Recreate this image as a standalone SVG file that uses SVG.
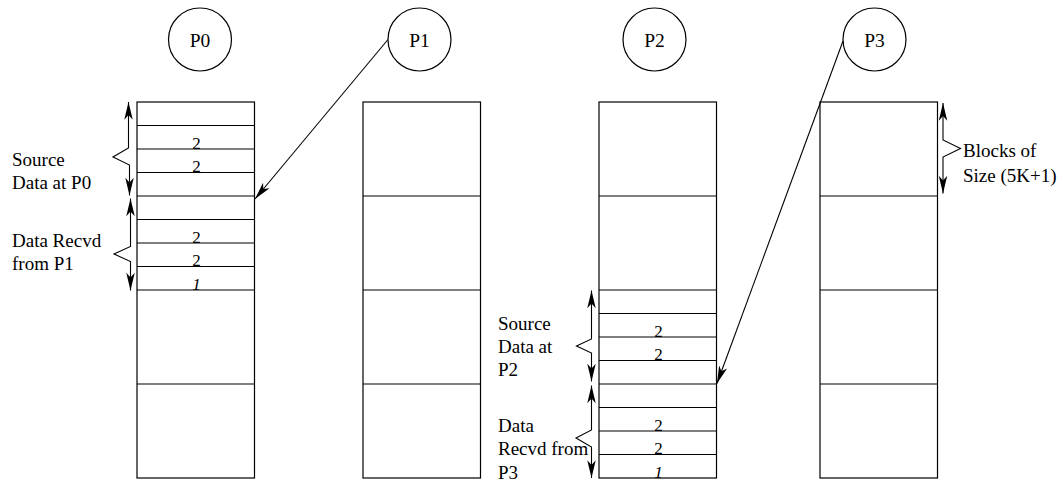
<svg xmlns="http://www.w3.org/2000/svg" width="1063" height="483" viewBox="0 0 1063 483" font-family="Liberation Serif, Times New Roman, DejaVu Serif, serif">
<style>
.box{fill:none;stroke:#000;stroke-width:1.2}
.ln{stroke:#000;stroke-width:1.2}
.arr{fill:none;stroke:#000;stroke-width:1.1}
.t{font-family:'Liberation Serif','Times New Roman','DejaVu Serif',serif;fill:#000}
.lbl{font-size:19px}
.pn{font-size:19.5px;text-anchor:middle}
.dg{font-size:17px;text-anchor:middle}
.it{font-style:italic}
</style>
<defs>
<marker id="ah" markerUnits="userSpaceOnUse" markerWidth="20" markerHeight="12" viewBox="-16 -5 17 10" refX="0" refY="0" orient="auto-start-reverse">
<path d="M0,0 L-15,-3.6 L-11,0 L-15,3.6 Z" fill="#000"/>
</marker>
</defs>
<rect width="1063" height="483" fill="#fff"/>

<g id="node-p0"><circle cx="200" cy="39.5" r="31.5" class="box"/><text x="200" y="47" class="t pn">P0</text></g>
<g id="node-p1"><circle cx="419.5" cy="39.5" r="31.5" class="box"/><text x="419.5" y="47" class="t pn">P1</text></g>
<g id="node-p2"><circle cx="654.5" cy="39.5" r="31.5" class="box"/><text x="654.5" y="47" class="t pn">P2</text></g>
<g id="node-p3"><circle cx="874.5" cy="39.5" r="31.5" class="box"/><text x="874.5" y="47" class="t pn">P3</text></g>

<g id="node-col0">
<rect x="137" y="102" width="117.5" height="376" class="box"/>
<path class="ln" d="M137,125.5H254.5M137,149H254.5M137,172.5H254.5M137,196H254.5M137,219.5H254.5M137,243H254.5M137,266.5H254.5M137,290H254.5M137,384H254.5"/>
<text x="196.5" y="149" class="t dg">2</text>
<text x="196.5" y="172" class="t dg">2</text>
<text x="196.5" y="242.5" class="t dg">2</text>
<text x="196.5" y="266" class="t dg">2</text>
<text x="196.5" y="289.5" class="t dg it">1</text>
</g>
<g id="node-col1">
<rect x="363" y="102" width="117.5" height="376" class="box"/>
<path class="ln" d="M363,196H480.5M363,290H480.5M363,384H480.5"/>
</g>
<g id="node-col2">
<rect x="599" y="102" width="117.5" height="376" class="box"/>
<path class="ln" d="M599,196H716.5M599,290H716.5M599,313.5H716.5M599,337H716.5M599,360.5H716.5M599,384H716.5M599,407.5H716.5M599,431H716.5M599,454.5H716.5"/>
<text x="658.5" y="336.5" class="t dg">2</text>
<text x="658.5" y="360" class="t dg">2</text>
<text x="658.5" y="430.5" class="t dg">2</text>
<text x="658.5" y="454" class="t dg">2</text>
<text x="658.5" y="477.5" class="t dg it">1</text>
</g>
<g id="node-col3">
<rect x="820" y="102" width="117.5" height="376" class="box"/>
<path class="ln" d="M820,196H937.5M820,290H937.5M820,384H937.5"/>
</g>

<g id="label-src0"><text x="12" y="166" class="t lbl">Source</text><text x="12" y="189" class="t lbl">Data at P0</text></g>
<g id="label-rcv0"><text x="12" y="246.5" class="t lbl">Data Recvd</text><text x="12" y="270" class="t lbl">from P1</text></g>
<g id="label-src2"><text x="498" y="330" class="t lbl">Source</text><text x="498" y="353" class="t lbl">Data at</text><text x="498" y="376" class="t lbl">P2</text></g>
<g id="label-rcv2"><text x="498" y="432" class="t lbl">Data</text><text x="498" y="455" class="t lbl">Recvd from</text><text x="498" y="479" class="t lbl">P3</text></g>
<g id="label-blocks"><text x="963" y="157" class="t lbl">Blocks of</text><text x="963" y="181.5" class="t lbl">Size (5K+1)</text></g>

<g id="connectors">
<polyline class="arr" points="128.5,102 128.5,148 113,157 129.5,165 129.5,195.5" marker-start="url(#ah)" marker-end="url(#ah)"/>
<polyline class="arr" points="130.5,198.5 130.5,246.5 114,254 130.5,261.5 130.5,290.5" marker-start="url(#ah)" marker-end="url(#ah)"/>
<polyline class="arr" points="591.5,290.5 591.5,339 576.5,346 591.5,353 591.5,381.5" marker-start="url(#ah)" marker-end="url(#ah)"/>
<polyline class="arr" points="591.5,385.5 591.5,430 576,438 591.5,447 591.5,478" marker-start="url(#ah)" marker-end="url(#ah)"/>
<polyline class="arr" points="943,103 943,140 960.5,148.5 943,157 943,193.5" marker-start="url(#ah)" marker-end="url(#ah)"/>
<line class="arr" x1="388" y1="39.5" x2="255" y2="199" marker-end="url(#ah)"/>
<line class="arr" x1="843" y1="41" x2="717" y2="383.5" marker-end="url(#ah)"/>
</g>
</svg>
